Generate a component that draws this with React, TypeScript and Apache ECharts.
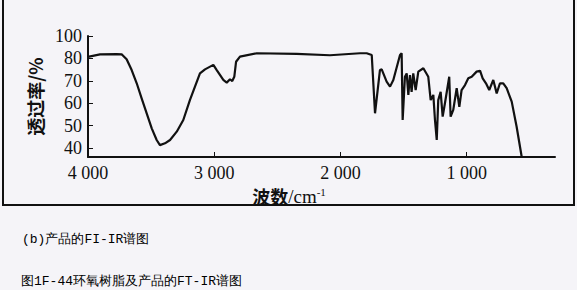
import React, { useEffect, useRef } from "react";
import * as echarts from "echarts";

// wavenumber (cm^-1) and transmittance (plotted on the figure's own linear scale)
const wavenumbers = [
  4000, 3905, 3773, 3733, 3720, 3694, 3654, 3614, 3575, 3535, 3495, 3456, 3430, 3390, 3350, 3297, 3245, 3192,
  3113, 3073, 3007, 2980, 2928, 2901, 2875, 2857, 2841, 2827, 2796, 2663, 2347, 2083, 1845, 1792, 1752, 1726,
  1687, 1673, 1634, 1607, 1581, 1528, 1515, 1507, 1489, 1475, 1462, 1449, 1436, 1423, 1404, 1383, 1343, 1304,
  1285, 1264, 1251, 1237, 1225, 1206, 1190, 1172, 1138, 1127, 1106, 1079, 1058, 1040, 1013, 987, 960, 921, 894,
  873, 847, 821, 789, 762, 736, 710, 683, 643, 604, 564,
];
const transmittance = [
  80.7, 81.8, 81.9, 81.8, 81.1, 79.6, 74.8, 68.9, 62.2, 55.5, 48.8, 43.6, 41.3, 42.1, 43.6, 47.3, 52.5, 61.5,
  73.3, 75.1, 77.1, 74.8, 70.4, 69.2, 70.7, 69.9, 71.8, 78.5, 80.8, 82.3, 82.0, 81.4, 82.3, 82.3, 81.5, 55.5,
  74.8, 75.1, 69.6, 67.4, 70.4, 81.5, 82.3, 52.5, 71.8, 73.3, 63.7, 72.6, 65.1, 73.3, 65.9, 74.1, 75.6, 71.8,
  61.4, 63.7, 52.5, 43.6, 61.4, 65.1, 54.0, 60.0, 71.8, 54.0, 57.0, 66.7, 58.4, 65.9, 68.1, 71.1, 71.8, 74.1, 74.5,
  71.1, 68.9, 65.9, 70.4, 64.4, 68.9, 68.9, 66.7, 60.7, 49.5, 36.1,
];

const xTickValues = [1000, 2000, 3000, 4000];
const xTickLabels = ["1 000", "2 000", "3 000", "4 000"];
const yTickValues = [40, 50, 60, 70, 80, 90];
const yTickLabels = ["40", "50", "60", "70", "80", "100"];

const yAxisTitle = "透过率/%";
const xAxisTitleCjk = "波数";
const xAxisTitleUnit = "/cm";
const xAxisTitleExp = "-1";
const caption1 = "(b)产品的FI-IR谱图";
const caption2 = "图1F-44环氧树脂及产品的FT-IR谱图";

const SERIF = "Liberation Serif";
const CJK = "Noto Sans CJK SC";
const CAP = "Liberation Mono";

const tickText = { fontFamily: SERIF, fontSize: 18, color: "#111", fill: "#111" };

export default function App() {
  const ref = useRef<HTMLDivElement>(null);
  useEffect(() => {
    if (!ref.current) return;
    const chart = echarts.init(ref.current, null, { renderer: "svg" });
    const data = wavenumbers.map((w, i) => [w, transmittance[i]]);
    chart.setOption({
      animation: false,
      backgroundColor: "#f5f4f8",
      textStyle: { fontFamily: SERIF },
      grid: { left: 88, right: 22, top: 36, bottom: 133 },
      xAxis: {
        type: "value",
        min: 300,
        max: 4000,
        inverse: true,
        axisLine: { lineStyle: { color: "#111", width: 2 } },
        axisTick: { inside: true, length: 5, customValues: xTickValues, lineStyle: { color: "#111" } },
        axisLabel: {
          customValues: xTickValues,
          margin: 7,
          fontFamily: SERIF,
          fontSize: 18,
          color: "#111",
          rich: { t: tickText },
          formatter: (v: number) => "{t|" + (xTickLabels[xTickValues.indexOf(v)] ?? "") + "}",
        },
        splitLine: { show: false },
      },
      yAxis: {
        type: "value",
        min: 36,
        max: 90,
        name: yAxisTitle,
        nameLocation: "middle",
        nameRotate: 90,
        nameGap: 40,
        nameTextStyle: { fontFamily: CJK, fontSize: 18, fontWeight: "bold", color: "#111" },
        axisLine: { show: true, lineStyle: { color: "#111", width: 2 } },
        axisTick: { show: true, inside: true, length: 5, customValues: yTickValues, lineStyle: { color: "#111" } },
        axisLabel: {
          customValues: yTickValues,
          margin: 6,
          fontFamily: SERIF,
          fontSize: 18,
          color: "#111",
          rich: { t: tickText },
          formatter: (v: number) => "{t|" + (yTickLabels[yTickValues.indexOf(v)] ?? "") + "}",
        },
        splitLine: { show: false },
      },
      graphic: [
        {
          type: "polyline",
          shape: { points: [[3, 0], [3, 205], [574, 205], [574, 0]] },
          style: { stroke: "#111", lineWidth: 2, fill: "none" },
        },
        {
          type: "text",
          x: 289,
          y: 196,
          style: {
            text: "{a|" + xAxisTitleCjk + "}{b|" + xAxisTitleUnit + "}{s|" + xAxisTitleExp + "}",
            align: "center",
            verticalAlign: "middle",
            rich: {
              a: { fontFamily: CJK, fontSize: 18, fill: "#111", fontWeight: "bold" },
              b: { fontFamily: SERIF, fontSize: 19, fill: "#111" },
              s: { fontFamily: SERIF, fontSize: 11, fill: "#111", verticalAlign: "top", padding: [0, 0, 8, 0] },
            },
          },
        },
        {
          type: "text",
          x: 22,
          y: 239,
          style: { text: caption1, fontFamily: CAP, fontSize: 13, fill: "#000", verticalAlign: "middle" },
        },
        {
          type: "text",
          x: 21,
          y: 281,
          style: { text: caption2, fontFamily: CAP, fontSize: 13, fill: "#000", verticalAlign: "middle" },
        },
      ],
      series: [
        {
          type: "line",
          data,
          showSymbol: false,
          smooth: false,
          lineStyle: { color: "#111", width: 2.2 },
        },
      ],
    });
    return () => chart.dispose();
  }, []);
  return <div ref={ref} style={{ position: "fixed", left: 0, top: 0, width: 577, height: 290 }} />;
}
